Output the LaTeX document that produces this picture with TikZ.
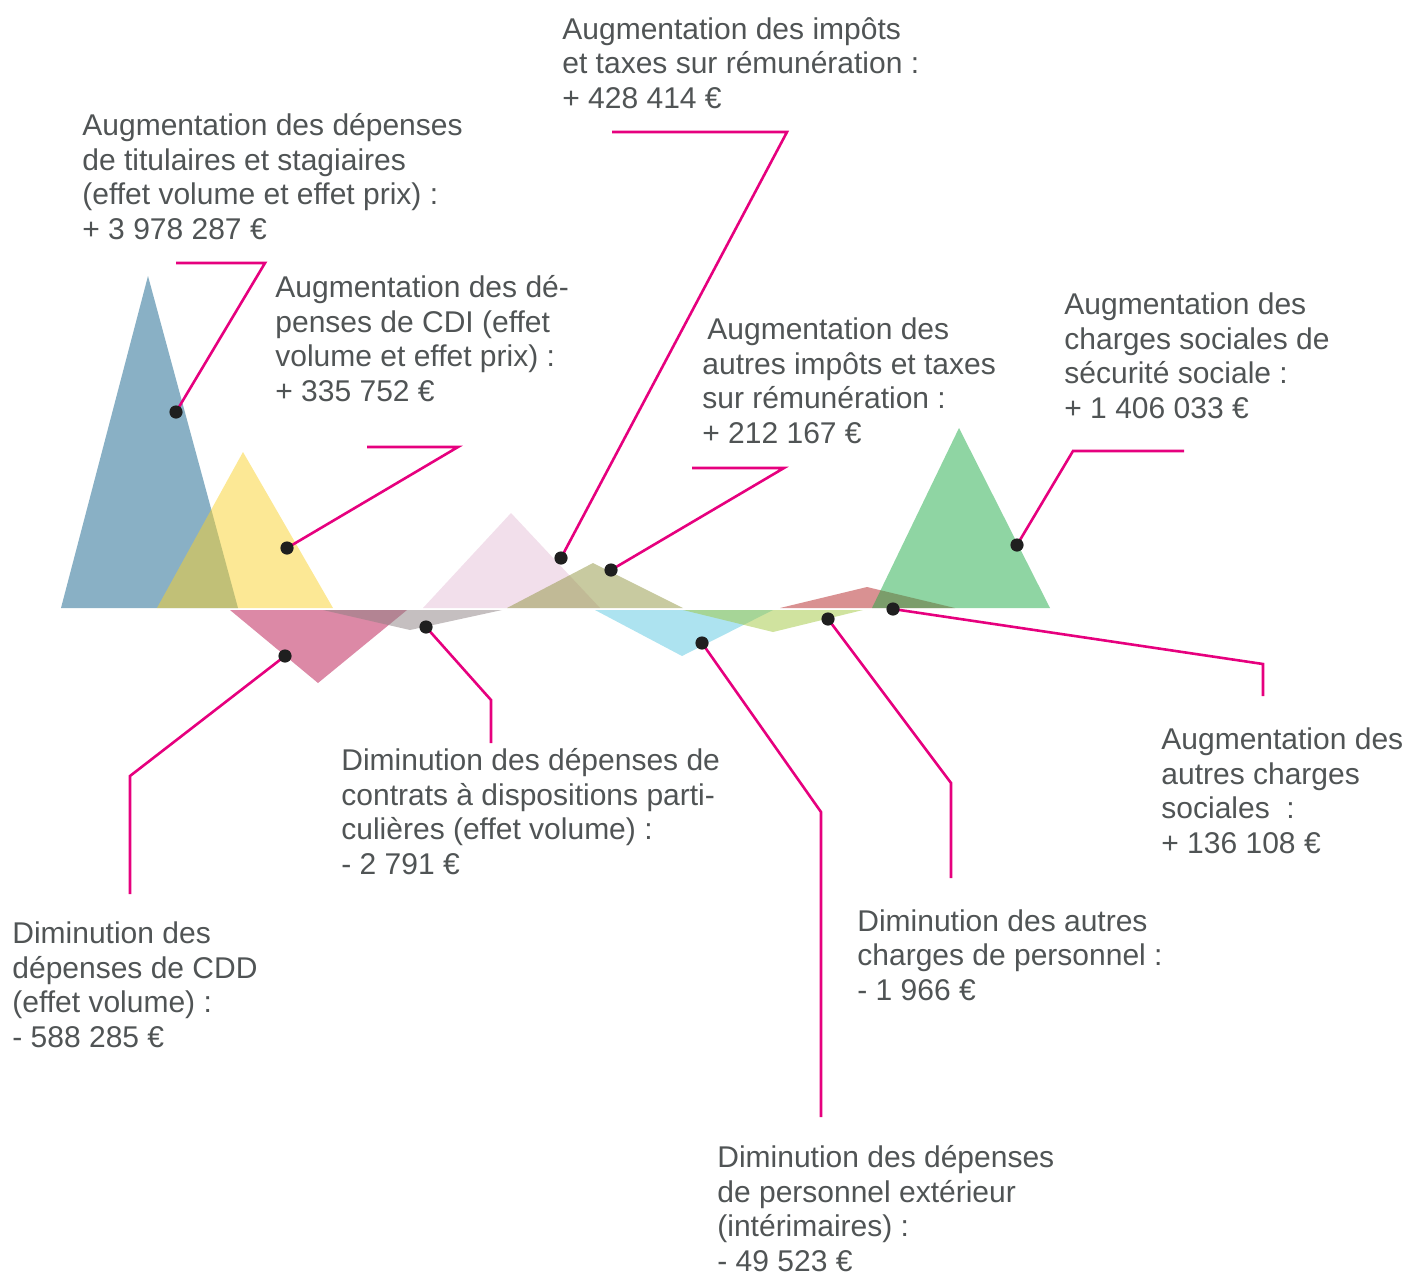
\documentclass[tikz,border=0pt]{standalone}
\usepackage{fontspec}
\setmainfont{Liberation Sans}
\definecolor{magline}{HTML}{E6007E}
\definecolor{txtgray}{HTML}{505455}
\definecolor{triblue}{RGB}{19,97,139}
\definecolor{triyellow}{RGB}{249,209,43}
\definecolor{tripink}{RGB}{185,19,77}
\definecolor{trigray}{RGB}{139,127,129}
\definecolor{trilight}{RGB}{229,191,215}
\definecolor{triolive}{RGB}{145,149,65}
\definecolor{tricyan}{RGB}{91,199,225}
\definecolor{trilime}{RGB}{161,199,63}
\definecolor{trired}{RGB}{179,35,37}
\definecolor{trigreen}{RGB}{31,171,71}

\begin{document}
\begin{tikzpicture}[x=0.5pt,y=-0.5pt,
	leader/.style={line width=1.3pt, color=magline},
	dot/.style={fill=black!88},
	tri/.style={fill opacity=0.5},
	note/.style={anchor=base west, align=left, inner sep=0pt, text=txtgray,
		font=\fontsize{15}{17.25}\selectfont}]
		%%%%% START %%%%%
		\useasboundingbox (0,0) rectangle (1419,1275);
		
		% triangles above the line
		\fill[tri, triblue] (61,608) -- (148,276) -- (238,608) -- cycle;
		\fill[tri, triyellow] (157,608) -- (243,452) -- (333,608) -- cycle;
		% triangles below the line
		\fill[tri, tripink] (230,610) -- (318,683) -- (407,610) -- cycle;
		\fill[tri, trigray] (323,610) -- (410,630) -- (502,610) -- cycle;
		
		\fill[tri, trilight] (423,608) -- (511,513) -- (600,608) -- cycle;
		\fill[tri, triolive] (507,608) -- (593,563) -- (683,608) -- cycle;
		\fill[tri, tricyan] (595,610) -- (682,656) -- (773,610) -- cycle;
		\fill[tri, trilime] (683,610) -- (773,632) -- (863,610) -- cycle;
		\fill[tri, trired] (780,608) -- (867,587) -- (955,608) -- cycle;
		\fill[tri, trigreen] (872,608) -- (959,428) -- (1050,608) -- cycle;
		
		% dots and elbows
		\coordinate (titu) at (176,412);
		\coordinate (titu1) at (265,263);
		\coordinate (titu2) at (176,263);
		\coordinate (cdi) at (287,548);
		\coordinate (cdi1) at (458,447);
		\coordinate (cdi2) at (367,447);
		\coordinate (impo) at (561,558);
		\coordinate (impo1) at (787,132);
		\coordinate (impo2) at (612,132);
		\coordinate (aimp) at (611,570);
		\coordinate (aimp1) at (784,468);
		\coordinate (aimp2) at (692,468);
		\coordinate (secu) at (1017,545);
		\coordinate (secu1) at (1073,451);
		\coordinate (secu2) at (1184,451);
		\coordinate (acha) at (893,609);
		\coordinate (acha1) at (1263,664);
		\coordinate (acha2) at (1263,696);
		\coordinate (aper) at (828,619);
		\coordinate (aper1) at (951,783);
		\coordinate (aper2) at (951,878);
		\coordinate (pext) at (702,643);
		\coordinate (pext1) at (821,812);
		\coordinate (pext2) at (821,1117);
		\coordinate (ctr) at (426,627);
		\coordinate (ctr1) at (491,700);
		\coordinate (ctr2) at (491,743);
		\coordinate (cdd) at (285,656);
		\coordinate (cdd1) at (130,776);
		\coordinate (cdd2) at (130,894);
		
		\draw[leader] (titu) -- (titu1) -- (titu2);
		\draw[leader] (cdi) -- (cdi1) -- (cdi2);
		\draw[leader] (impo) -- (impo1) -- (impo2);
		\draw[leader] (aimp) -- (aimp1) -- (aimp2);
		\draw[leader] (secu) -- (secu1) -- (secu2);
		\draw[leader] (acha) -- (acha1) -- (acha2);
		\draw[leader] (aper) -- (aper1) -- (aper2);
		\draw[leader] (pext) -- (pext1) -- (pext2);
		\draw[leader] (ctr) -- (ctr1) -- (ctr2);
		\draw[leader] (cdd) -- (cdd1) -- (cdd2);
		
		\foreach \d in {titu,cdi,impo,aimp,secu,acha,aper,pext,ctr,cdd}
			\fill[dot] (\d) circle (3.3pt);
		
		% texts (anchored on the baseline of the last line)
		\node[note] (ttitu) at (82,239) {Augmentation des dépenses\\de titulaires et stagiaires\\(effet volume et effet prix) :\\+ 3 978 287 €};
		\node[note] (tcdi) at (275,401) {Augmentation des dé-\\penses de CDI (effet\\volume et effet prix) :\\+ 335 752 €};
		\node[note] (timpo) at (562,108) {Augmentation des impôts\\et taxes sur rémunération :\\+ 428 414 €};
		\node[note] (taimp) at (702,443) {\hspace*{2.5pt}Augmentation des\\autres impôts et taxes\\sur rémunération :\\+ 212 167 €};
		\node[note] (tsecu) at (1064,418) {Augmentation des\\charges sociales de\\sécurité sociale :\\+ 1 406 033 €};
		\node[note] (tacha) at (1161,853) {Augmentation des\\autres charges\\sociales \ :\\+ 136 108 €};
		\node[note] (taper) at (857,1000) {Diminution des autres\\charges de personnel :\\- 1 966 €};
		\node[note] (tpext) at (717,1271) {Diminution des dépenses\\de personnel extérieur\\(intérimaires) :\\- 49 523 €};
		\node[note] (tctr) at (341,874) {Diminution des dépenses de\\contrats à dispositions parti-\\culières (effet volume) :\\- 2 791 €};
		\node[note] (tcdd) at (12,1047) {Diminution des\\dépenses de CDD\\(effet volume) :\\- 588 285 €};
		
		%%%%% END %%%%%
\end{tikzpicture}
\end{document}
